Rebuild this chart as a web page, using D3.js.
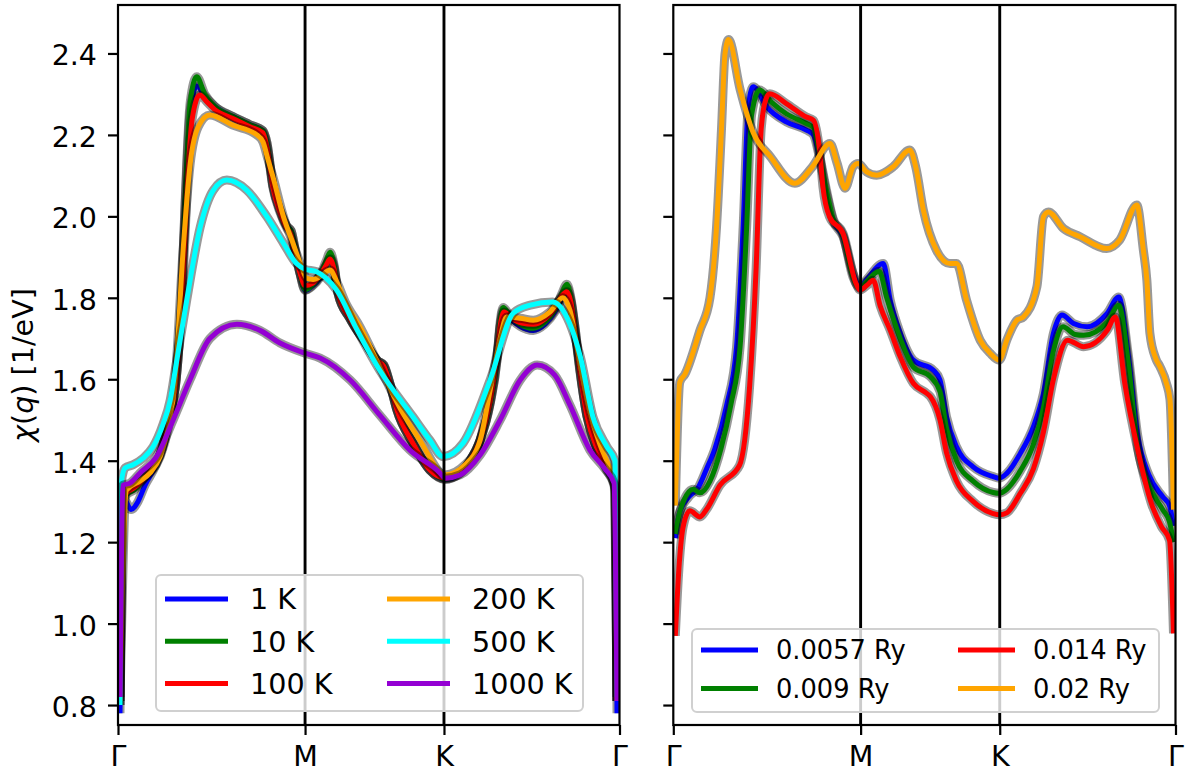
<!DOCTYPE html>
<html>
<head>
<meta charset="utf-8">
<script src="https://cdn.jsdelivr.net/npm/d3@7"></script>
<style>
  html, body { margin: 0; padding: 0; background: #fff; }
  svg { display: block; }
  text { font-family: "DejaVu Sans", sans-serif; fill: #000; }
</style>
</head>
<body>
<svg id="chart" width="1186" height="772"></svg>
<script>
// ---- k-path: high-symmetry points along the path (path coordinate 0..1) ----
const kTickPos = [0, 0.373, 0.650, 1.0];
const kTickLabels = ["Γ", "M", "K", "Γ"];
const yTicks = [0.8, 1.0, 1.2, 1.4, 1.6, 1.8, 2.0, 2.2, 2.4];

// ---- left panel: chi(q) for several electronic temperatures, [q, chi] ----
const tempLabels = ["1 K", "10 K", "100 K", "200 K", "500 K", "1000 K"];

const chi_1K = [[0.004,0.78],[0.010,1.31],[0.016,1.30],[0.026,1.28],[0.040,1.30],[0.054,1.34],[0.074,1.385],[0.088,1.43],[0.100,1.50],[0.116,1.60],[0.126,1.78],[0.134,2.03],[0.144,2.26],[0.157,2.32],[0.173,2.295],[0.193,2.27],[0.229,2.245],[0.263,2.225],[0.289,2.21],[0.297,2.18],[0.309,2.075],[0.323,2.015],[0.337,1.975],[0.345,1.965],[0.353,1.92],[0.363,1.86],[0.373,1.818],[0.387,1.828],[0.403,1.85],[0.415,1.88],[0.423,1.90],[0.431,1.875],[0.439,1.81],[0.462,1.75],[0.493,1.69],[0.518,1.645],[0.530,1.635],[0.542,1.59],[0.556,1.525],[0.588,1.443],[0.622,1.377],[0.652,1.354],[0.682,1.368],[0.702,1.40],[0.722,1.45],[0.742,1.54],[0.756,1.65],[0.762,1.73],[0.768,1.77],[0.782,1.75],[0.802,1.73],[0.828,1.72],[0.851,1.735],[0.871,1.765],[0.885,1.80],[0.895,1.825],[0.903,1.795],[0.912,1.72],[0.921,1.625],[0.935,1.51],[0.955,1.43],[0.975,1.375],[0.989,1.34],[0.993,1.31],[0.995,0.78]];

const chi_10K = [[0.004,0.80],[0.010,1.30],[0.016,1.315],[0.034,1.33],[0.054,1.36],[0.074,1.39],[0.088,1.43],[0.100,1.50],[0.116,1.60],[0.126,1.78],[0.134,2.04],[0.144,2.28],[0.157,2.343],[0.173,2.30],[0.193,2.27],[0.229,2.245],[0.263,2.225],[0.289,2.21],[0.297,2.18],[0.309,2.075],[0.323,2.015],[0.337,1.975],[0.345,1.965],[0.353,1.92],[0.363,1.86],[0.373,1.82],[0.387,1.83],[0.403,1.855],[0.415,1.89],[0.423,1.912],[0.431,1.88],[0.439,1.81],[0.462,1.75],[0.493,1.69],[0.518,1.645],[0.530,1.635],[0.542,1.59],[0.556,1.525],[0.588,1.443],[0.622,1.377],[0.652,1.355],[0.682,1.37],[0.702,1.40],[0.722,1.45],[0.742,1.54],[0.756,1.65],[0.762,1.74],[0.768,1.776],[0.782,1.755],[0.802,1.735],[0.828,1.725],[0.851,1.74],[0.871,1.77],[0.885,1.81],[0.895,1.833],[0.903,1.80],[0.912,1.72],[0.921,1.625],[0.935,1.51],[0.955,1.43],[0.975,1.38],[0.989,1.345],[0.993,1.32],[0.995,0.81]];

const chi_100K = [[0.004,0.81],[0.010,1.31],[0.016,1.32],[0.034,1.335],[0.054,1.36],[0.074,1.39],[0.088,1.43],[0.100,1.49],[0.116,1.60],[0.128,1.80],[0.138,2.07],[0.148,2.24],[0.163,2.298],[0.178,2.28],[0.193,2.262],[0.229,2.24],[0.263,2.22],[0.289,2.205],[0.297,2.17],[0.309,2.07],[0.323,2.01],[0.337,1.97],[0.345,1.955],[0.353,1.91],[0.363,1.86],[0.373,1.83],[0.387,1.835],[0.403,1.855],[0.415,1.88],[0.423,1.895],[0.431,1.87],[0.439,1.81],[0.462,1.75],[0.493,1.69],[0.518,1.645],[0.530,1.632],[0.542,1.59],[0.556,1.525],[0.588,1.443],[0.622,1.377],[0.652,1.357],[0.682,1.372],[0.702,1.40],[0.722,1.45],[0.742,1.545],[0.756,1.66],[0.762,1.73],[0.770,1.765],[0.785,1.75],[0.805,1.738],[0.828,1.735],[0.851,1.748],[0.871,1.775],[0.885,1.805],[0.895,1.815],[0.903,1.79],[0.912,1.71],[0.921,1.62],[0.935,1.51],[0.955,1.43],[0.975,1.38],[0.989,1.345],[0.993,1.32],[0.995,0.81]];

const chi_200K = [[0.004,0.81],[0.017,1.328],[0.044,1.35],[0.064,1.37],[0.084,1.41],[0.100,1.48],[0.114,1.60],[0.130,1.92],[0.144,2.13],[0.160,2.22],[0.183,2.249],[0.229,2.224],[0.277,2.20],[0.289,2.183],[0.299,2.14],[0.309,2.097],[0.330,1.999],[0.349,1.934],[0.366,1.876],[0.376,1.848],[0.389,1.845],[0.403,1.852],[0.423,1.868],[0.436,1.84],[0.453,1.79],[0.482,1.73],[0.522,1.63],[0.562,1.53],[0.602,1.45],[0.652,1.365],[0.692,1.39],[0.722,1.45],[0.742,1.573],[0.762,1.70],[0.775,1.753],[0.802,1.75],[0.828,1.745],[0.861,1.765],[0.887,1.80],[0.901,1.77],[0.921,1.64],[0.941,1.52],[0.961,1.44],[0.981,1.38],[0.991,1.34],[0.995,0.81]];

const chi_500K = [[0.004,0.80],[0.007,1.35],[0.014,1.382],[0.030,1.39],[0.050,1.406],[0.070,1.434],[0.090,1.49],[0.104,1.548],[0.114,1.622],[0.137,1.794],[0.164,1.974],[0.190,2.064],[0.217,2.089],[0.257,2.064],[0.297,1.999],[0.330,1.934],[0.356,1.884],[0.373,1.870],[0.396,1.864],[0.413,1.850],[0.436,1.819],[0.473,1.73],[0.522,1.622],[0.588,1.508],[0.622,1.45],[0.648,1.41],[0.688,1.443],[0.742,1.598],[0.788,1.762],[0.822,1.782],[0.867,1.79],[0.887,1.77],[0.922,1.655],[0.947,1.508],[0.975,1.434],[0.991,1.40],[0.995,0.82]];

const chi_1000K = [[0.004,0.82],[0.010,1.34],[0.024,1.345],[0.044,1.37],[0.077,1.41],[0.110,1.50],[0.144,1.60],[0.183,1.70],[0.237,1.735],[0.283,1.72],[0.323,1.689],[0.373,1.664],[0.403,1.652],[0.463,1.598],[0.522,1.512],[0.582,1.426],[0.642,1.37],[0.652,1.357],[0.682,1.365],[0.722,1.414],[0.762,1.50],[0.802,1.598],[0.836,1.635],[0.871,1.61],[0.901,1.537],[0.941,1.426],[0.971,1.38],[0.989,1.345],[0.995,0.81]];

// ---- right panel: chi(q) for several smearing widths, [q, chi] ----
const smearLabels = ["0.0057 Ry", "0.009 Ry", "0.014 Ry", "0.02 Ry"];

const chi_0057Ry = [[0.004,1.21],[0.012,1.27],[0.030,1.31],[0.050,1.335],[0.066,1.379],[0.083,1.43],[0.106,1.535],[0.126,1.68],[0.139,1.972],[0.149,2.264],[0.159,2.318],[0.186,2.269],[0.225,2.232],[0.265,2.212],[0.279,2.20],[0.292,2.138],[0.305,2.056],[0.318,1.991],[0.338,1.95],[0.358,1.86],[0.372,1.827],[0.385,1.845],[0.418,1.884],[0.432,1.794],[0.452,1.713],[0.478,1.647],[0.518,1.622],[0.531,1.598],[0.544,1.508],[0.564,1.434],[0.597,1.385],[0.637,1.361],[0.649,1.357],[0.664,1.369],[0.691,1.418],[0.717,1.483],[0.737,1.565],[0.757,1.713],[0.774,1.758],[0.797,1.737],[0.824,1.729],[0.864,1.762],[0.887,1.802],[0.906,1.66],[0.925,1.46],[0.947,1.365],[0.975,1.311],[0.988,1.29],[0.996,1.24]];

const chi_009Ry = [[0.004,1.22],[0.012,1.27],[0.020,1.30],[0.040,1.33],[0.053,1.321],[0.073,1.35],[0.095,1.43],[0.115,1.54],[0.133,1.68],[0.146,1.972],[0.156,2.25],[0.172,2.31],[0.196,2.28],[0.225,2.252],[0.265,2.228],[0.279,2.218],[0.292,2.146],[0.305,2.064],[0.318,1.995],[0.338,1.954],[0.358,1.85],[0.372,1.823],[0.385,1.84],[0.410,1.865],[0.425,1.80],[0.452,1.70],[0.478,1.63],[0.512,1.606],[0.531,1.57],[0.544,1.48],[0.564,1.40],[0.597,1.35],[0.637,1.322],[0.649,1.32],[0.664,1.33],[0.691,1.375],[0.717,1.44],[0.737,1.53],[0.757,1.67],[0.776,1.729],[0.800,1.71],[0.817,1.708],[0.864,1.74],[0.887,1.782],[0.906,1.64],[0.925,1.43],[0.947,1.34],[0.975,1.279],[0.988,1.25],[0.996,1.20]];

const chi_014Ry = [[0.004,0.97],[0.012,1.15],[0.020,1.24],[0.033,1.277],[0.053,1.262],[0.066,1.28],[0.093,1.34],[0.132,1.389],[0.152,1.583],[0.165,1.875],[0.175,2.215],[0.185,2.29],[0.192,2.301],[0.225,2.277],[0.265,2.244],[0.279,2.236],[0.292,2.154],[0.298,2.072],[0.311,1.999],[0.338,1.958],[0.364,1.835],[0.372,1.819],[0.385,1.83],[0.398,1.843],[0.412,1.78],[0.432,1.72],[0.452,1.655],[0.478,1.59],[0.505,1.565],[0.512,1.557],[0.531,1.50],[0.544,1.42],[0.564,1.35],[0.597,1.30],[0.637,1.27],[0.649,1.267],[0.664,1.272],[0.691,1.32],[0.717,1.38],[0.737,1.47],[0.757,1.60],[0.785,1.696],[0.817,1.68],[0.864,1.72],[0.880,1.753],[0.899,1.59],[0.925,1.426],[0.952,1.295],[0.972,1.238],[0.988,1.205],[0.996,0.976]];

const chi_02Ry = [[0.004,1.29],[0.013,1.593],[0.023,1.612],[0.053,1.72],[0.073,1.80],[0.086,1.972],[0.096,2.215],[0.103,2.40],[0.110,2.434],[0.133,2.312],[0.159,2.206],[0.193,2.147],[0.242,2.081],[0.276,2.12],[0.312,2.179],[0.326,2.131],[0.342,2.069],[0.358,2.122],[0.368,2.13],[0.385,2.109],[0.405,2.101],[0.438,2.122],[0.471,2.163],[0.483,2.12],[0.498,2.015],[0.524,1.917],[0.551,1.884],[0.564,1.884],[0.584,1.794],[0.611,1.696],[0.631,1.664],[0.649,1.647],[0.664,1.696],[0.684,1.745],[0.697,1.753],[0.724,1.827],[0.737,1.999],[0.747,2.011],[0.777,1.97],[0.810,1.95],[0.863,1.921],[0.889,1.942],[0.923,2.028],[0.936,1.917],[0.943,1.843],[0.949,1.713],[0.961,1.65],[0.969,1.631],[0.982,1.59],[0.989,1.55],[0.996,1.28]];

// ---- series colours ----
const tempColors  = ["#0000ff", "#008000", "#ff0000", "#ffa500", "#00ffff", "#9400d3"];
const smearColors = ["#0000ff", "#008000", "#ff0000", "#ffa500"];

const tempSeries  = [chi_1K, chi_10K, chi_100K, chi_200K, chi_500K, chi_1000K];
const smearSeries = [chi_0057Ry, chi_009Ry, chi_014Ry, chi_02Ry];

// ---- layout ----
const svg = d3.select("#chart");
const plotTop = 5, plotBottom = 725;
const yDomain = [0.751, 2.519];
const tickFont = 28.5;

function drawPanel(p) {
  const x = d3.scaleLinear().domain([0, 1]).range([p.left, p.right]);
  const y = d3.scaleLinear().domain(yDomain).range([plotBottom, plotTop]);
  const g = svg.append("g");
  const clipId = "clip-" + p.id;
  g.append("clipPath").attr("id", clipId)
    .append("rect").attr("x", p.left).attr("y", plotTop)
    .attr("width", p.right - p.left).attr("height", plotBottom - plotTop);

  const line = d3.line().x(d => x(d[0])).y(d => y(d[1])).curve(d3.curveMonotoneX);
  const curves = g.append("g").attr("clip-path", `url(#${clipId})`);
  p.series.forEach((s, i) => {
    // translucent dark halo under each curve, then the coloured curve
    curves.append("path").attr("d", line(s)).attr("fill", "none")
      .attr("stroke", "#000").attr("stroke-opacity", 0.4)
      .attr("stroke-width", 9).attr("stroke-linejoin", "round").attr("stroke-linecap", "butt");
    curves.append("path").attr("d", line(s)).attr("fill", "none")
      .attr("stroke", p.colors[i]).attr("stroke-width", 5)
      .attr("stroke-linejoin", "round").attr("stroke-linecap", "butt");
  });

  // vertical guides at M and K
  [kTickPos[1], kTickPos[2]].forEach(k => {
    g.append("line").attr("x1", x(k)).attr("x2", x(k)).attr("y1", plotTop).attr("y2", plotBottom)
      .attr("stroke", "#000").attr("stroke-width", 2.9);
  });

  // axes
  const yAxis = d3.axisLeft(y).tickValues(yTicks).tickSize(10).tickPadding(11)
    .tickFormat(p.yLabels ? d3.format(".1f") : () => "");
  const ga = g.append("g").attr("transform", `translate(${p.left},0)`).call(yAxis);
  ga.select(".domain").remove();
  ga.selectAll(".tick line").attr("stroke", "#000").attr("stroke-width", 2.2);
  ga.selectAll(".tick text").attr("font-size", tickFont).attr("font-family", "DejaVu Sans")
    .attr("dy", "0.40em");

  const xAxis = d3.axisBottom(x).tickValues(kTickPos).tickSize(10).tickPadding(10)
    .tickFormat((d, i) => kTickLabels[i]);
  const gx = g.append("g").attr("transform", `translate(0,${plotBottom})`).call(xAxis);
  gx.select(".domain").remove();
  gx.selectAll(".tick line").attr("stroke", "#000").attr("stroke-width", 2.2);
  gx.selectAll(".tick text").attr("font-size", tickFont).attr("font-family", "DejaVu Sans")
    .attr("dy", "0.74em");

  // frame
  g.append("rect").attr("x", p.left).attr("y", plotTop)
    .attr("width", p.right - p.left).attr("height", plotBottom - plotTop)
    .attr("fill", "none").attr("stroke", "#000").attr("stroke-width", 2.2);

  // legend
  const L = p.legend;
  const lg = g.append("g");
  lg.append("rect").attr("x", L.x).attr("y", L.y).attr("width", L.w).attr("height", L.h)
    .attr("rx", 5).attr("fill", "#fff").attr("fill-opacity", 0.8)
    .attr("stroke", "#d0d0d0").attr("stroke-width", 2);
  p.labels.forEach((lab, i) => {
    const col = Math.floor(i / L.rows), row = i % L.rows;
    const cx = L.x + L.pad + col * L.colW;
    const cy = L.y + L.firstRow + row * L.rowH;
    lg.append("line").attr("x1", cx).attr("x2", cx + L.handle).attr("y1", cy).attr("y2", cy)
      .attr("stroke", p.colors[i]).attr("stroke-width", 5);
    lg.append("text").attr("x", cx + L.handle + L.gap).attr("y", cy)
      .attr("dy", "0.36em").attr("font-size", L.font).text(lab);
  });
}

drawPanel({
  id: "temp", left: 118, right: 619.5, yLabels: true,
  series: tempSeries, colors: tempColors, labels: tempLabels,
  legend: { x: 156, y: 575, w: 427, h: 136, rows: 3, pad: 9, colW: 222, firstRow: 24, rowH: 42.3,
            handle: 63, gap: 22, font: 28.6 }
});

drawPanel({
  id: "smear", left: 673.3, right: 1175.5, yLabels: false,
  series: smearSeries, colors: smearColors, labels: smearLabels,
  legend: { x: 692, y: 629, w: 467, h: 83, rows: 2, pad: 9, colW: 257, firstRow: 21, rowH: 38.5,
            handle: 57, gap: 18, font: 25.7 }
});

// y-axis title
const yl = svg.append("text")
  .attr("transform", "translate(32.5,365) rotate(-90)")
  .attr("text-anchor", "middle").attr("font-size", 28.6);
yl.append("tspan").attr("font-style", "italic").text("χ");
yl.append("tspan").text("(");
yl.append("tspan").attr("font-style", "italic").text("q");
yl.append("tspan").text(") [1/eV]");
</script>
</body>
</html>
